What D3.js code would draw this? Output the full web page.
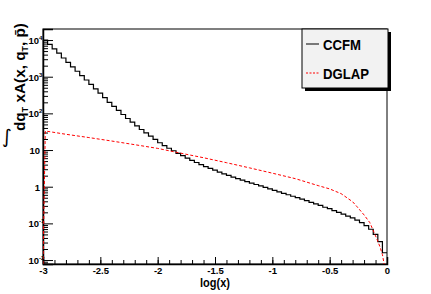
<!DOCTYPE html>
<html>
<head>
<meta charset="utf-8">
<script src="https://cdn.jsdelivr.net/npm/d3@7"></script>
<style>
  body { margin: 0; background: #fff; }
  text { font-family: "Liberation Sans", Arial, sans-serif; font-weight: bold; }
</style>
</head>
<body>
<div id="my_dataviz"></div>
<script>
// CCFM histogram: 75 bins from log(x) = -3 to 0 (bin width 0.04)
var ccfmEdges = [-3, 0];
var ccfmValues = [10000, 7590, 5750, 4370, 3240, 2450, 1860, 1410, 1070, 813,
    617, 468, 355, 269, 200, 155, 120, 93.3, 72.4, 57.5,
    45.7, 36.3, 29.5, 24.0, 19.5, 15.8, 13.2, 11.2, 9.55, 8.13,
    7.08, 6.03, 5.25, 4.57, 3.98, 3.55, 3.16, 2.82, 2.51, 2.24,
    2.04, 1.82, 1.66, 1.51, 1.38, 1.26, 1.15, 1.05, 0.955, 0.871,
    0.794, 0.724, 0.661, 0.603, 0.550, 0.501, 0.457, 0.417, 0.372, 0.339,
    0.309, 0.275, 0.251, 0.224, 0.200, 0.178, 0.158, 0.141, 0.123, 0.105,
    0.0871, 0.0692, 0.0501, 0.0316, 0.0158];

// DGLAP curve
var dglapX = [-2.98, -2.8, -2.6, -2.4, -2.2, -2.0, -1.8, -1.6, -1.4, -1.2,
    -1.0, -0.8, -0.6, -0.5, -0.4, -0.3, -0.26, -0.2, -0.15, -0.1,
    -0.08, -0.06, -0.04, -0.02];
var dglapY = [33.1, 26.9, 21.9, 17.6, 14.0, 11.1, 8.22, 6.17, 4.52, 3.27,
    2.34, 1.66, 1.07, 0.871, 0.646, 0.389, 0.282, 0.170, 0.105, 0.0457,
    0.0324, 0.0224, 0.0141, 0.0063];

var xTicks = [-3, -2.5, -2, -1.5, -1, -0.5, 0];
var xTickLabels = ["-3", "-2.5", "-2", "-1.5", "-1", "-0.5", "0"];
var yTicks = [0.01, 0.1, 1, 10, 100, 1000, 10000];
var yTickBase = ["10", "10", "1", "10", "10", "10", "10"];
var yTickExp = ["-2", "-1", "", "", "2", "3", "4"];
var legendNames = ["CCFM", "DGLAP"];

var margin = { top: 29, right: 44, bottom: 30, left: 43 },
    width = 431 - margin.left - margin.right,
    height = 294 - margin.top - margin.bottom;

var root = d3.select("#my_dataviz")
    .append("svg")
    .attr("width", 431)
    .attr("height", 294);
var svg = root.append("g")
    .attr("transform", "translate(" + margin.left + "," + margin.top + ")");

var x = d3.scaleLinear().domain([-3, 0]).range([0, width]);
var y = d3.scaleLog().domain([0.0078, 20000]).range([height, 0]);

svg.append("clipPath").attr("id", "clip")
    .append("rect").attr("width", width).attr("height", height);

// frame
svg.append("rect")
    .attr("width", width).attr("height", height)
    .attr("fill", "none").attr("stroke", "#000").attr("stroke-width", 1);

// X axis (ticks pointing inward)
var minorX = d3.range(-30, 1).map(function (d) { return d / 10; });
svg.append("g")
    .attr("transform", "translate(0," + height + ")")
    .call(d3.axisBottom(x).tickValues(minorX).tickSize(-4).tickFormat(""))
    .call(function (g) { g.select(".domain").remove(); });
var xAxis = svg.append("g")
    .attr("transform", "translate(0," + height + ")")
    .call(d3.axisBottom(x).tickValues(xTicks).tickSize(-7).tickPadding(3)
        .tickFormat(function (d, i) { return xTickLabels[i]; }));
xAxis.select(".domain").attr("stroke-width", 1.5);
xAxis.selectAll("text").style("font-size", "9.5px").style("font-family", "Liberation Sans, Arial").style("font-weight", "bold");

svg.append("text")
    .attr("x", width / 2)
    .attr("y", height + 23)
    .attr("text-anchor", "middle")
    .attr("textLength", 30)
    .attr("lengthAdjust", "spacingAndGlyphs")
    .style("font-size", "13px")
    .text("log(x)");

// Y axis
var minorY = [];
yTicks.forEach(function (t) {
    for (var k = 2; k <= 9; k++) minorY.push(t * k);
});
minorY.unshift(0.008, 0.009);
minorY = minorY.filter(function (v) { return v <= 20000; });
svg.append("g")
    .call(d3.axisLeft(y).tickValues(minorY).tickSize(-5).tickFormat(""))
    .call(function (g) { g.select(".domain").remove(); });
var yAxis = svg.append("g")
    .call(d3.axisLeft(y).tickValues(yTicks).tickSize(-10).tickFormat(""));
yAxis.select(".domain").attr("stroke-width", 1.5);

yAxis.selectAll(".tick").each(function (d, i) {
    var g = d3.select(this);
    var hasExp = yTickExp[i] !== "";
    g.append("text")
        .attr("x", hasExp ? -4 : -3)
        .attr("y", 3.5)
        .attr("text-anchor", "end")
        .attr("fill", "#000")
        .style("font-size", "9.5px")
        .text(yTickBase[i]);
    if (hasExp) {
        g.append("text")
            .attr("x", -4)
            .attr("y", -0.5)
            .attr("text-anchor", "start")
            .attr("fill", "#000")
            .style("font-size", "6px")
            .text(yTickExp[i]);
    }
});

// Y title: upright integral sign, rotated text
root.append("text")
    .attr("x", 2)
    .attr("y", 143)
    .style("font-family", "DejaVu Sans")
    .style("font-weight", "normal")
    .style("font-size", "19px")
    .text("\u222B");
var yt = root.append("text")
    .attr("transform", "translate(25,131) rotate(-90)")
    .attr("x", 0).attr("y", 0)
    .attr("textLength", 108)
    .attr("lengthAdjust", "spacingAndGlyphs")
    .style("font-size", "15.5px");
yt.append("tspan").text("dq");
yt.append("tspan").attr("dy", 3).style("font-size", "9px").text("T");
yt.append("tspan").attr("dy", -3).text(" xA(x, q");
yt.append("tspan").attr("dy", 3).style("font-size", "9px").text("T");
yt.append("tspan").attr("dy", -3).text(", p\u0304)");

// CCFM histogram as a step line
var nb = ccfmValues.length;
var bw = (ccfmEdges[1] - ccfmEdges[0]) / nb;
var steps = [];
ccfmValues.forEach(function (v, i) {
    steps.push([ccfmEdges[0] + i * bw, v]);
    steps.push([ccfmEdges[0] + (i + 1) * bw, v]);
});
var plot = svg.append("g").attr("clip-path", "url(#clip)");
plot.append("path")
    .datum(steps)
    .attr("fill", "none")
    .attr("stroke", "#000")
    .attr("stroke-width", 1.2)
    .attr("d", d3.line()
        .x(function (d) { return x(d[0]); })
        .y(function (d) { return y(d[1]); }));

// DGLAP dashed curve (rises from the bottom at log(x) = -3)
var dpts = dglapX.map(function (v, i) { return [x(v), y(dglapY[i])]; });
dpts.unshift([x(-3), height]);
plot.append("path")
    .datum(dpts)
    .attr("fill", "none")
    .attr("stroke", "#ff0000")
    .attr("stroke-width", 1)
    .attr("stroke-dasharray", "3,2")
    .attr("d", d3.line());

// legend
var lg = svg.append("g").attr("transform", "translate(" + (width - 85) + ",0)");
lg.append("rect").attr("x", 3).attr("y", 3).attr("width", 86).attr("height", 59).attr("fill", "#000");
lg.append("rect").attr("x", 0).attr("y", 0).attr("width", 86).attr("height", 59)
    .attr("fill", "#f2f2f2").attr("stroke", "#000").attr("stroke-width", 1);
legendNames.forEach(function (name, i) {
    var ly = 15 + i * 29;
    lg.append("line")
        .attr("x1", 4).attr("x2", 17).attr("y1", ly).attr("y2", ly)
        .attr("stroke", i == 0 ? "#000" : "#ff0000")
        .attr("stroke-width", 1)
        .attr("stroke-dasharray", i == 0 ? null : "2,1.5");
    lg.append("text")
        .attr("x", 21).attr("y", ly + 6)
        .attr("textLength", i == 0 ? 38 : 46)
        .attr("lengthAdjust", "spacingAndGlyphs")
        .style("font-size", "15px")
        .text(name);
});
</script>
</body>
</html>
